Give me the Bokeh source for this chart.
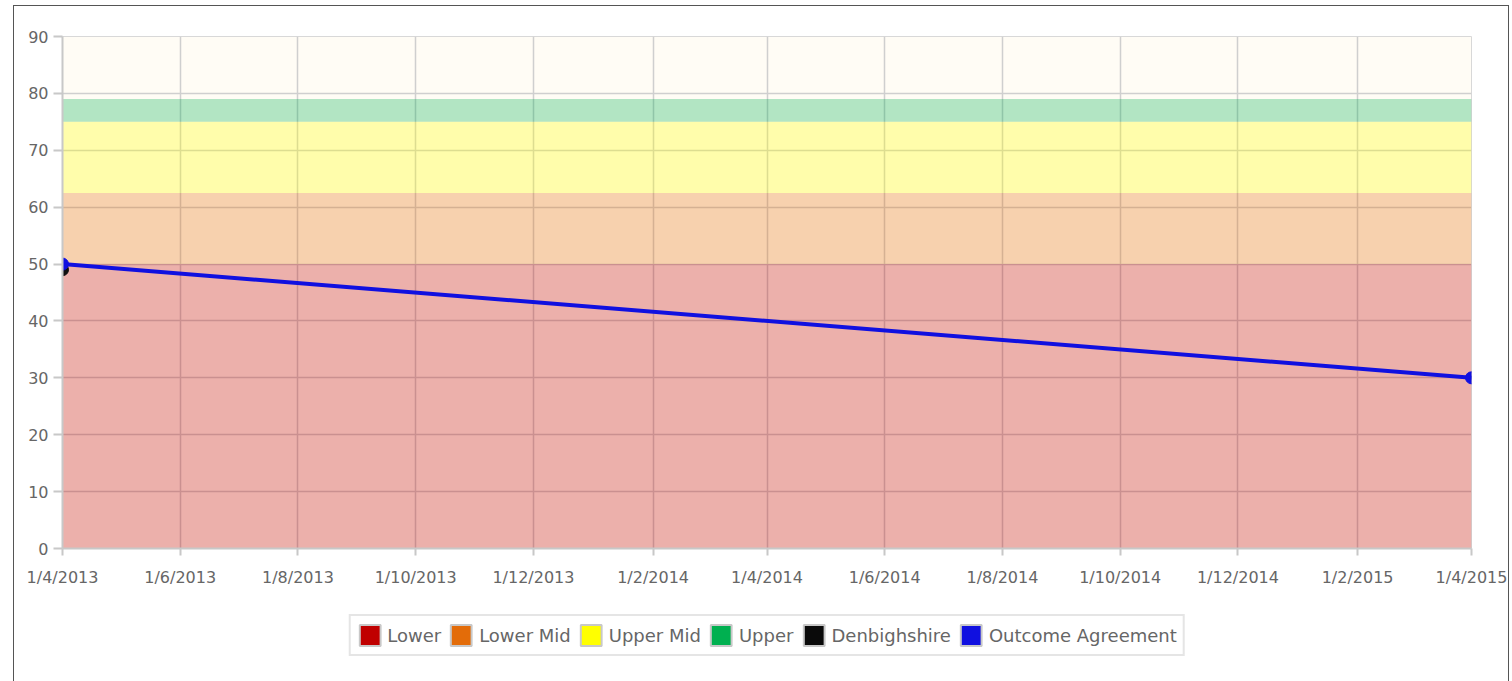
from datetime import datetime
from bokeh.plotting import figure
from bokeh.layouts import column
from bokeh.models import (ColumnDataSource, Range1d, FixedTicker, Legend, LegendItem)
from bokeh.embed import file_html
from bokeh.resources import INLINE

# ---- data ----
tick_dates = ["2013-04-01", "2013-06-01", "2013-08-01", "2013-10-01", "2013-12-01",
              "2014-02-01", "2014-04-01", "2014-06-01", "2014-08-01", "2014-10-01",
              "2014-12-01", "2015-02-01", "2015-04-01"]
tick_labels = ["1/4/2013", "1/6/2013", "1/8/2013", "1/10/2013", "1/12/2013",
               "1/2/2014", "1/4/2014", "1/6/2014", "1/8/2014", "1/10/2014",
               "1/12/2014", "1/2/2015", "1/4/2015"]

band_names = ["Lower", "Lower Mid", "Upper Mid", "Upper"]
band_bottoms = [0, 50, 62.5, 75]
band_tops = [50, 62.5, 75, 79]
band_colors = ["#c00000", "#e36c09", "#ffff00", "#00b050"]

outcome_dates = ["2013-04-01", "2015-04-01"]
outcome_values = [50, 30]

denb_dates = ["2013-04-01"]
denb_values = [49]

y_ticks = [0, 10, 20, 30, 40, 50, 60, 70, 80, 90]

# ---- helpers ----
def ms(s):
    d = datetime.strptime(s, "%Y-%m-%d")
    return (d - datetime(1970, 1, 1)).total_seconds() * 1000.0

tick_ms = [ms(s) for s in tick_dates]
x0, x1 = tick_ms[0], tick_ms[-1]

FONT = "DejaVu Sans"

p = figure(frame_width=1409, frame_height=512, output_backend="svg", toolbar_location=None,
           x_range=Range1d(x0, x1), y_range=Range1d(0, 90),
           min_border_left=48, min_border_right=37, min_border_top=30, min_border_bottom=50)
p.background_fill_color = "#fffcf5"
p.border_fill_color = "white"
p.outline_line_color = "#d8d8d8"

# bands
band_src = ColumnDataSource(dict(left=[x0] * 4, right=[x1] * 4, bottom=band_bottoms,
                                 top=band_tops, color=band_colors))
p.quad(left="left", right="right", bottom="bottom", top="top", fill_color="color",
       fill_alpha=0.3, line_color=None, source=band_src)

# outcome agreement line
oa_src = ColumnDataSource(dict(x=[ms(s) for s in outcome_dates], y=outcome_values))
p.line("x", "y", source=oa_src, line_color="#1010e0", line_width=4)

# denbighshire point
dn_src = ColumnDataSource(dict(x=[ms(s) for s in denb_dates], y=denb_values))
p.scatter("x", "y", source=dn_src, size=12, fill_color="#111111", line_color="#111111")
p.scatter("x", "y", source=oa_src, size=12, fill_color="#1010e0", line_color="#1010e0")

# axes
p.xaxis.ticker = FixedTicker(ticks=tick_ms)
p.xaxis.major_label_overrides = {int(t): lab for t, lab in zip(tick_ms, tick_labels)}
p.yaxis.ticker = FixedTicker(ticks=y_ticks)
for ax in (p.xaxis[0], p.yaxis[0]):
    ax.axis_line_color = "#c8c8c8"
    ax.axis_line_width = 2
    ax.major_tick_line_color = "#c8c8c8"
    ax.major_tick_line_width = 2
    ax.major_tick_in = 0
    ax.minor_tick_line_color = None
    ax.major_label_text_font = FONT
    ax.major_label_text_font_size = "16px"
    ax.major_label_text_color = "#666666"
p.xaxis.major_tick_out = 7
p.yaxis.major_tick_out = 9
p.xaxis.major_label_standoff = 12
p.yaxis.major_label_standoff = 5

p.xgrid.grid_line_color = "#cfcfcf"
p.ygrid.grid_line_color = "#cfcfcf"
p.xgrid.grid_line_width = 1.5
p.ygrid.grid_line_width = 1.5
p.xgrid.ticker = FixedTicker(ticks=tick_ms)
p.ygrid.ticker = FixedTicker(ticks=y_ticks)

# ---- legend strip (second figure, same horizontal layout) ----
q = figure(frame_width=1409, frame_height=100, output_backend="svg", toolbar_location=None,
           x_range=Range1d(0, 1), y_range=Range1d(0, 1),
           min_border_left=48, min_border_right=37, min_border_top=0, min_border_bottom=0)
q.axis.visible = False
q.grid.visible = False
q.outline_line_color = None
q.background_fill_color = "white"
q.border_fill_color = "white"

legend_names = band_names + ["Denbighshire", "Outcome Agreement"]
legend_colors = band_colors + ["#0a0a0a", "#1010e0"]
items = []
for name, col in zip(legend_names, legend_colors):
    # swatch renderer: its single quad lies outside the strip's visible range
    r = q.quad(left=[5], right=[6], bottom=[5], top=[6], fill_color=col, line_color="#c8c8c8",
               line_width=2)
    items.append(LegendItem(label=name, renderers=[r]))

legend = Legend(items=items, orientation="horizontal", location="top_center")
legend.label_text_font = FONT
legend.label_text_font_size = "18px"
legend.label_text_color = "#666666"
legend.border_line_color = "#cccccc"
legend.border_line_width = 2
legend.glyph_width = 26
legend.glyph_height = 26
legend.spacing = 7
legend.label_standoff = 5
legend.padding = 6
legend.margin = 16
q.add_layout(legend, "center")

layout = column(p, q, spacing=0)
layout.margin = (5, 0, 0, 13)
layout.styles = {"border": "1px solid #555555"}

open("out.html", "w").write(file_html(layout, INLINE))
